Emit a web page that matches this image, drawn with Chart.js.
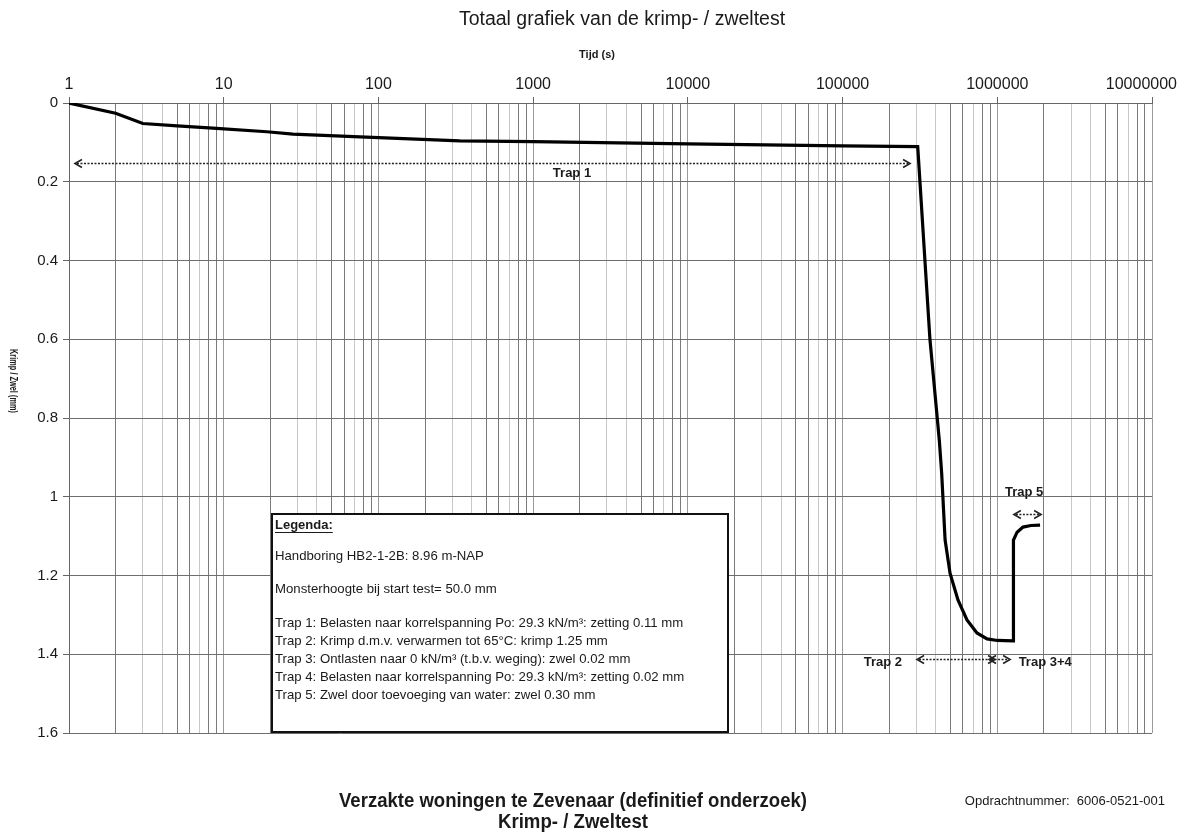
<!DOCTYPE html>
<html>
<head>
<meta charset="utf-8">
<script src="https://cdn.jsdelivr.net/npm/chart.js@4/dist/chart.umd.min.js"></script>
<style>
html,body{margin:0;padding:0;background:#fff;}
#wrap{width:1184px;height:835px;position:relative;}
canvas{display:block;}
</style>
</head>
<body>
<div id="wrap"><canvas id="c" width="1184" height="835"></canvas></div>
<script>
// ---- data ----
const timeSeconds = [1, 2, 3, 5, 8.5, 19, 28, 76, 335, 1000, 10000, 100000, 306000,
  367000, 422000, 437000, 460000, 495000, 557000, 637000, 739000, 859000, 1000000, 1265000,
  1272000, 1343000, 1466000, 1650000, 1890000];
const krimpZwel = [0, 0.026, 0.052, 0.058, 0.064, 0.073, 0.079, 0.086, 0.096, 0.098, 0.104, 0.109, 0.111,
  0.600, 0.857, 0.940, 1.110, 1.194, 1.262, 1.313, 1.346, 1.361, 1.365, 1.366,
  1.110, 1.090, 1.077, 1.073, 1.072];
const xTickLabels = ['1','10','100','1000','10000','100000','1000000','10000000'];
const xTickValues = [1, 10, 100, 1000, 10000, 100000, 1000000, 10000000];
const yTickValues = [0, 0.2, 0.4, 0.6, 0.8, 1.0, 1.2, 1.4, 1.6];
const yTickLabels = ['0','0.2','0.4','0.6','0.8','1','1.2','1.4','1.6'];

const chartTitle = 'Totaal grafiek van de krimp- / zweltest';
const xAxisTitle = 'Tijd (s)';
const yAxisTitle = 'Krimp / Zwel (mm)';
const legendLines = [
  'Handboring HB2-1-2B: 8.96 m-NAP',
  'Monsterhoogte bij start test= 50.0 mm',
  'Trap 1: Belasten naar korrelspanning Po: 29.3 kN/m\u00B3: zetting 0.11 mm',
  'Trap 2: Krimp d.m.v. verwarmen tot 65\u00B0C: krimp 1.25 mm',
  'Trap 3: Ontlasten naar 0 kN/m\u00B3 (t.b.v. weging): zwel 0.02 mm',
  'Trap 4: Belasten naar korrelspanning Po: 29.3 kN/m\u00B3: zetting 0.02 mm',
  'Trap 5: Zwel door toevoeging van water: zwel 0.30 mm'
];
const trapNames = ['Trap 1', 'Trap 2', 'Trap 3+4', 'Trap 5'];
const trapFrom = [1.093, 303000, 885000, 1280000];
const trapTo = [273000, 967000, 1210000, 1920000];
const trapLevel = [0.152, 1.412, 1.412, 1.044];
const trapLabelT = [1783, 182000, 2040000, 1490000];
const trapLabelLevel = [0.178, 1.42, 1.42, 0.988];

const footerTitle1 = 'Verzakte woningen te Zevenaar (definitief onderzoek)';
const footerTitle2 = 'Krimp- / Zweltest';
const footerRef = 'Opdrachtnummer:  6006-0521-001';

// grid positions for log axis: 1..9 x 10^k
const gridValues = [];
xTickValues.forEach((d, i) => {
  if (i === xTickValues.length - 1) { gridValues.push(d); return; }
  for (let m = 1; m <= 9; m++) gridValues.push(m * d);
});
const isMajor = v => xTickValues.some(d => Math.abs(v - d) / d < 1e-9);
const mantissa = v => Math.round(v / Math.pow(10, Math.floor(Math.log10(v) + 1e-9)));
const gridShade = v => {
  const m = mantissa(v);
  if (m === 1) return '#9a9a9a';
  if (m === 3 || m === 4 || m === 7) return '#c8c8c8';
  return '#7a7a7a';
};

const FONT = '"Liberation Sans", Arial, Helvetica, sans-serif';

const overlay = {
  id: 'overlay',
  afterDraw(chart) {
    const ctx = chart.ctx;
    const xs = chart.scales.x, ys = chart.scales.y;
    ctx.save();
    ctx.fillStyle = '#1a1a1a';
    // main title
    ctx.font = '19.5px ' + FONT;
    ctx.textAlign = 'center';
    ctx.textBaseline = 'middle';
    ctx.fillText(chartTitle, 622, 20, 330);
    // x axis title
    ctx.font = 'bold 11px ' + FONT;
    ctx.fillText(xAxisTitle, 597, 55);
    // x tick labels (log decades), kept inside the page like the original
    ctx.font = '16px ' + FONT;
    xTickValues.forEach((v, i) => {
      const w = ctx.measureText(xTickLabels[i]).width;
      let cx = xs.getPixelForValue(v);
      if (cx + w / 2 > 1177) cx = 1177 - w / 2;
      ctx.fillText(xTickLabels[i], cx, 85);
    });
    // y axis title (rotated)
    ctx.save();
    ctx.translate(13, 381);
    ctx.rotate(Math.PI / 2);
    ctx.font = 'bold 10px ' + FONT;
    ctx.fillText(yAxisTitle, 0, 0, 64);
    ctx.restore();

    // trap arrows
    for (let i = 0; i < trapNames.length; i++) {
      const x1 = xs.getPixelForValue(trapFrom[i]);
      const x2 = xs.getPixelForValue(trapTo[i]);
      const y = Math.round(ys.getPixelForValue(trapLevel[i])) + 0.5;
      ctx.strokeStyle = '#222';
      ctx.lineWidth = 1.5;
      ctx.setLineDash([2, 1.5]);
      ctx.beginPath(); ctx.moveTo(x1 + 2, y); ctx.lineTo(x2 - 2, y); ctx.stroke();
      ctx.setLineDash([]);
      ctx.lineWidth = 1.6;
      ctx.beginPath();
      ctx.moveTo(x1 + 7, y - 4); ctx.lineTo(x1, y); ctx.lineTo(x1 + 7, y + 4);
      ctx.moveTo(x2 - 7, y - 4); ctx.lineTo(x2, y); ctx.lineTo(x2 - 7, y + 4);
      ctx.stroke();
      ctx.font = 'bold 13px ' + FONT;
      ctx.textAlign = 'center';
      ctx.textBaseline = 'middle';
      ctx.fillStyle = '#1a1a1a';
      ctx.fillText(trapNames[i], xs.getPixelForValue(trapLabelT[i]), ys.getPixelForValue(trapLabelLevel[i]));
    }

    // legend box
    const bx = 272, by = 514, bw = 456, bh = 218;
    ctx.fillStyle = '#fff';
    ctx.fillRect(bx, by, bw, bh);
    ctx.strokeStyle = '#111';
    ctx.lineWidth = 2;
    ctx.strokeRect(bx, by, bw, bh);
    ctx.fillStyle = '#1a1a1a';
    ctx.textAlign = 'left';
    ctx.textBaseline = 'middle';
    ctx.font = 'bold 13px ' + FONT;
    ctx.fillText('Legenda:', 275, 525);
    const lw = ctx.measureText('Legenda:').width;
    ctx.fillRect(275, 532, lw, 1);
    ctx.font = '13.2px ' + FONT;
    const lineY = [556, 589, 623, 641, 659, 677, 695];
    legendLines.forEach((t, i) => ctx.fillText(t, 275, lineY[i], 448));

    // footer
    ctx.textAlign = 'center';
    ctx.font = 'bold 20px ' + FONT;
    ctx.fillText(footerTitle1, 573, 801, 468);
    ctx.fillText(footerTitle2, 573, 822, 150);
    ctx.textAlign = 'right';
    ctx.font = '13px ' + FONT;
    ctx.fillText(footerRef, 1165, 801, 205);
    ctx.restore();
  }
};

new Chart(document.getElementById('c'), {
  type: 'line',
  data: {
    datasets: [{
      data: timeSeconds.map((t, i) => ({ x: t, y: krimpZwel[i] })),
      borderColor: '#000',
      borderWidth: 3.2,
      pointRadius: 0,
      tension: 0,
      fill: false
    }]
  },
  options: {
    responsive: false,
    animation: false,
    devicePixelRatio: 1,
    layout: { padding: { top: 0, left: 0, right: 32, bottom: 102 } },
    plugins: { legend: { display: false }, title: { display: false }, tooltip: { enabled: false } },
    scales: {
      x: {
        type: 'logarithmic',
        position: 'top',
        min: 1, max: 10000000,
        afterBuildTicks: s => { s.ticks = gridValues.map(v => ({ value: v, major: isMajor(v) })); },
        afterFit: s => { s.height = 103; s.paddingLeft = 0; s.paddingRight = 0; },
        ticks: {
          display: false,
          autoSkip: false, maxRotation: 0, minRotation: 0
        },
        grid: {
          color: c => c.tick ? gridShade(c.tick.value) : '#999',
          lineWidth: 1,
          tickLength: 6,
          tickColor: c => (c.tick && isMajor(c.tick.value)) ? '#666' : 'rgba(0,0,0,0)'
        },
        border: { display: true, color: '#666', width: 1 }
      },
      y: {
        type: 'linear',
        reverse: true,
        min: 0, max: 1.6,
        afterBuildTicks: s => { s.ticks = yTickValues.map(v => ({ value: v })); },
        afterFit: s => { s.width = 69; s.paddingTop = 0; s.paddingBottom = 0; },
        ticks: {
          padding: 5,
          color: '#1a1a1a',
          font: { family: FONT, size: 15 },
          callback: (v, i) => yTickLabels[i]
        },
        grid: { color: '#6e6e6e', lineWidth: 1, tickLength: 6, tickColor: '#666' },
        border: { display: true, color: '#666', width: 1 }
      }
    }
  },
  plugins: [overlay]
});
</script>
</body>
</html>
